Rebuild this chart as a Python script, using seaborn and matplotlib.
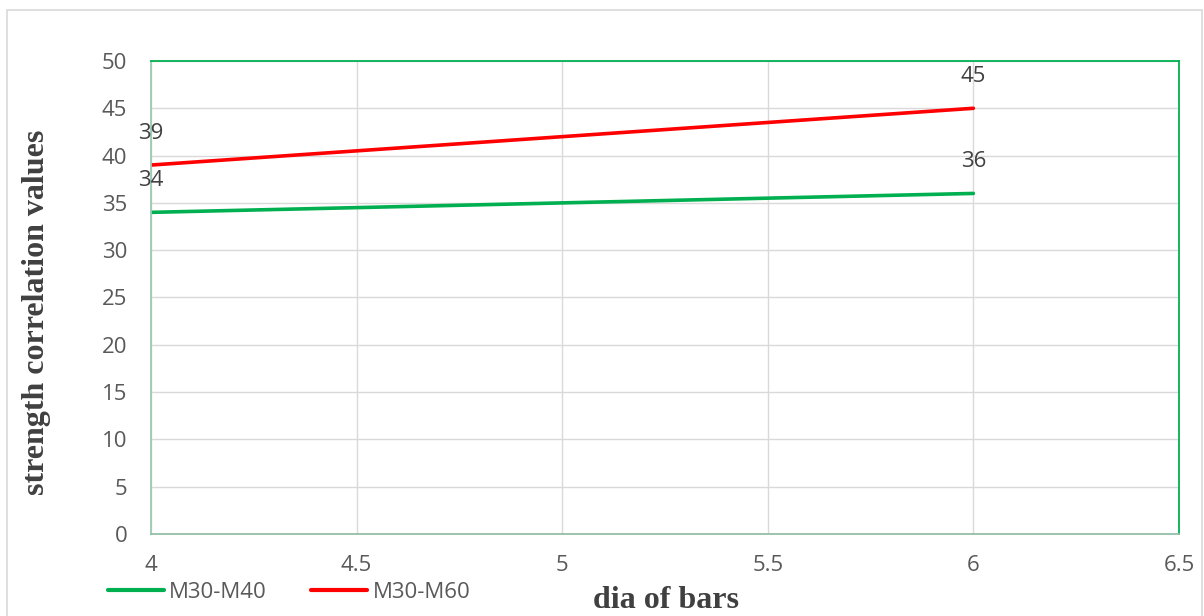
import pandas as pd
import matplotlib.pyplot as plt
import seaborn as sns
from matplotlib.patches import Rectangle

# data
dia = [4, 6]
m30_m40 = [34, 36]
m30_m60 = [39, 45]
series_names = ["M30-M40", "M30-M60"]
series_colors = ["#00B050", "#FF0000"]

df = pd.DataFrame({
    "dia": dia * 2,
    "value": m30_m40 + m30_m60,
    "series": [series_names[0]] * len(dia) + [series_names[1]] * len(dia),
})

sns.set_style("white")
plt.rcParams["font.family"] = ["Open Sans", "DejaVu Sans"]

fig = plt.figure(figsize=(12.04, 6.16), dpi=100)
ax = fig.add_axes([0.1254, 0.1331, 0.8538, 0.7679])

# outer chart frame
fig.patches.append(Rectangle((7 / 1204, -0.05), 1195 / 1204, 1.05 - 10 / 616,
                             transform=fig.transFigure, fill=False,
                             edgecolor="#D9D9D9", linewidth=1.2))

sns.lineplot(data=df, x="dia", y="value", hue="series", palette=series_colors,
             linewidth=2.6, ax=ax, legend=False)

# data labels above the points
for vals in (m30_m40, m30_m60):
    for x, y in zip(dia, vals):
        ax.annotate(str(y), (x, y), xytext=(0, 23), textcoords="offset points",
                    ha="center", va="center", fontsize=16, color="#404040")

ax.set_xlim(4, 6.5)
ax.set_ylim(0, 50)
ax.set_xticks([4, 4.5, 5, 5.5, 6, 6.5])
ax.set_xticklabels(["4", "4.5", "5", "5.5", "6", "6.5"])
ax.set_yticks(range(0, 51, 5))
ax.grid(True, color="#D9D9D9", linewidth=1)
ax.tick_params(axis="both", length=0, labelsize=16, labelcolor="#595959")
ax.tick_params(axis="x", pad=15)
ax.tick_params(axis="y", pad=17)

ax.spines["top"].set_color("#00B050")
ax.spines["right"].set_color("#00B050")
ax.spines["left"].set_color("#9CC9B4")
ax.spines["bottom"].set_color("#93BFA7")
for s in ax.spines.values():
    s.set_linewidth(1.3)
    s.set_visible(True)

ax.set_xlabel("")
ax.set_ylabel("")
serif = {"family": ["Liberation Serif", "DejaVu Serif"], "weight": "bold",
         "size": 23, "color": "#404040"}
fig.text(666 / 1204, 1 - 601 / 616, "dia of bars", ha="center", va="center", **serif)
fig.text(37 / 1204, 1 - 312 / 616, "strength correlation values", ha="center",
         va="center", rotation=90, **serif)

handles = [plt.Line2D([], [], color=c, linewidth=3) for c in series_colors]
leg = fig.legend(handles, series_names, loc="center left",
                 bbox_to_anchor=(108 / 1204, 1 - 592 / 616), ncol=2, frameon=False,
                 fontsize=16, handlelength=2.5, handletextpad=0.25, columnspacing=2.0,
                 borderaxespad=0, borderpad=0)
for t in leg.get_texts():
    t.set_color("#595959")

fig.savefig("out.png", dpi=100)
